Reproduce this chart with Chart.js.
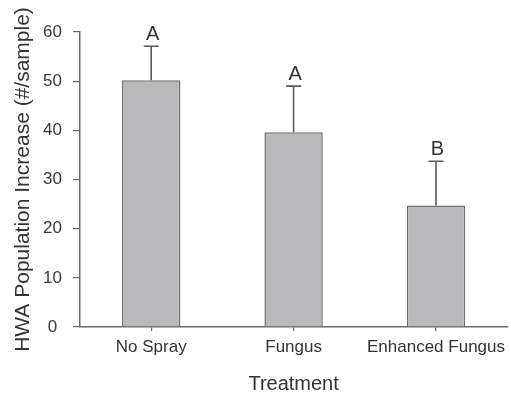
<!DOCTYPE html>
<html>
<head>
<meta charset="utf-8">
<script src="https://cdn.jsdelivr.net/npm/chart.js@4/dist/chart.umd.min.js"></script>
<style>
  html, body { margin: 0; padding: 0; background: #ffffff; }
  #wrap { width: 511px; height: 395px; }
</style>
</head>
<body>
<div id="wrap"><canvas id="c" width="511" height="395"></canvas></div>
<script>
// Treatment means, upper standard error and significance groups
const treatments = ['No Spray', 'Fungus', 'Enhanced Fungus'];
const meanIncrease = [50.2, 39.6, 24.7];
const stdError = [6.9, 9.4, 9.0];
const groupLetters = ['A', 'A', 'B'];
const yTicks = [0, 10, 20, 30, 40, 50, 60];

const FONT = "'Liberation Sans', Arial, Helvetica, sans-serif";
const AXIS = '#6a6a6a';

// Draws the one-sided error bars and letter groups above each bar
const errorBars = {
  id: 'errorBars',
  afterDatasetsDraw(chart) {
    const ctx = chart.ctx;
    const y = chart.scales.y;
    const meta = chart.getDatasetMeta(0);
    ctx.save();
    meta.data.forEach((bar, i) => {
      const top = y.getPixelForValue(meanIncrease[i] + stdError[i]);
      const base = y.getPixelForValue(meanIncrease[i]);
      ctx.strokeStyle = '#5a5a5a';
      ctx.lineWidth = 1.6;
      ctx.beginPath();
      ctx.moveTo(bar.x, base);
      ctx.lineTo(bar.x, top);
      ctx.moveTo(bar.x - 7.5, top);
      ctx.lineTo(bar.x + 7.5, top);
      ctx.stroke();
      ctx.fillStyle = '#333333';
      ctx.font = '20px ' + FONT;
      ctx.textAlign = 'center';
      ctx.textBaseline = 'alphabetic';
      ctx.fillText(groupLetters[i], bar.x + 1.5, top - 6);
    });
    ctx.restore();
  }
};

new Chart(document.getElementById('c'), {
  type: 'bar',
  data: {
    labels: treatments,
    datasets: [{
      data: meanIncrease,
      backgroundColor: '#b9b9bb',
      borderColor: '#707070',
      borderWidth: 1.5,
      borderSkipped: 'bottom',
      barPercentage: 0.41,
      categoryPercentage: 1.0
    }]
  },
  options: {
    responsive: false,
    animation: false,
    layout: { padding: { top: 32, right: 0, bottom: 0, left: 0 } },
    plugins: { legend: { display: false }, tooltip: { enabled: false } },
    scales: {
      x: {
        offset: true,
        grid: { display: true, offset: false, drawOnChartArea: false, tickLength: 4, color: AXIS, lineWidth: 1.2 },
        border: { display: true, color: AXIS, width: 1.5 },
        ticks: { color: '#333333', font: { family: FONT, size: 17 }, padding: 6, maxRotation: 0, autoSkip: false },
        title: { display: true, text: 'Treatment', color: '#333333', font: { family: FONT, size: 20, lineHeight: 1 }, padding: { top: 0, bottom: 1 } },
        afterFit(scale) { scale.height = 68; }
      },
      y: {
        min: 0,
        max: 60,
        afterBuildTicks(scale) { scale.ticks = yTicks.map(v => ({ value: v })); },
        grid: { display: true, drawOnChartArea: false, tickLength: 7, color: AXIS, lineWidth: 1.2 },
        border: { display: true, color: AXIS, width: 1.5 },
        ticks: { color: '#3a3a3a', font: { family: FONT, size: 17 }, padding: 11, crossAlign: 'center' },
        title: { display: true, text: 'HWA Population Increase (#/sample)', color: '#333333', font: { family: FONT, size: 21, lineHeight: 1 }, padding: { top: 13, bottom: 0 } },
        afterFit(scale) { scale.width = 80; }
      }
    }
  },
  plugins: [errorBars]
});
</script>
</body>
</html>
